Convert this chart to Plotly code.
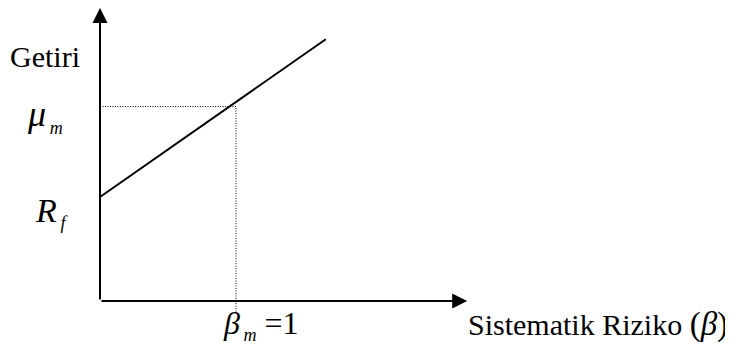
import plotly.graph_objects as go

# ---- data (abstract SML diagram units; beta_m = 1) ----
beta_m = 1.0
Rf = 0.765          # risk-free rate (intercept)
mu_m = 1.43         # market expected return
sml_beta = [0.0, 1.66]
sml_return = [0.765, 1.925]
x_axis_end = 2.70
y_axis_end = 2.155

PAGE_W, PAGE_H = 733, 345
OFF = 8                     # page body margin
W, H = PAGE_W - OFF, PAGE_H - OFF
PX = 136.0                  # pixels per unit
x0_px, y0_px = 100, 301     # origin in page pixels


def to_x(px):
    return (px - x0_px) / PX


def to_y(py):
    return (y0_px - py) / PX


fig = go.Figure()

fig.add_trace(go.Scatter(x=sml_beta, y=sml_return, mode="lines",
                         line=dict(color="black", width=2), hoverinfo="skip"))
fig.add_trace(go.Scatter(x=[0, beta_m, beta_m], y=[mu_m, mu_m, -0.08], mode="lines",
                         line=dict(color="black", width=1, dash="1px,1.5px"), hoverinfo="skip"))

serif = "Liberation Serif, Times New Roman, serif"

for tip in [(0, y_axis_end), (x_axis_end, 0)]:
    fig.add_annotation(x=tip[0], y=tip[1], ax=0, ay=0,
                       xref="x", yref="y", axref="x", ayref="y",
                       text="", showarrow=True, arrowhead=2, arrowsize=1.5,
                       arrowwidth=2, arrowcolor="black", standoff=0, startstandoff=0)


def sub(t, s=18):
    return ('<sub><span style="font-size:%dpx">&#8201;<i>%s</i></span></sub>' % (s, t))


def lab(text, px, py, xa="center", ya="middle", size=28):
    fig.add_annotation(x=to_x(px), y=to_y(py), xref="x", yref="y", text=text,
                       showarrow=False, xanchor=xa, yanchor=ya,
                       font=dict(family=serif, size=size, color="black"))


lab("Getiri", 45, 56, size=30)
lab("<i>μ</i>" + sub("m"), 45, 116, size=36)
lab("<i>R</i>" + sub("f"), 51, 212, size=34)
lab("<i>β</i>" + sub("m") + " =1", 261, 325, size=32)
lab('Sistematik Riziko <span style="font-size:33px">(<i>β</i>)</span>', 466, 324,
    xa="left", size=30)

fig.update_layout(
    width=W, height=H, margin=dict(l=0, r=0, t=0, b=0),
    paper_bgcolor="white", plot_bgcolor="white", showlegend=False,
    xaxis=dict(range=[to_x(OFF), to_x(PAGE_W)], visible=False, fixedrange=True),
    yaxis=dict(range=[to_y(PAGE_H), to_y(OFF)], visible=False, fixedrange=True),
)
fig.write_html("out.html")
